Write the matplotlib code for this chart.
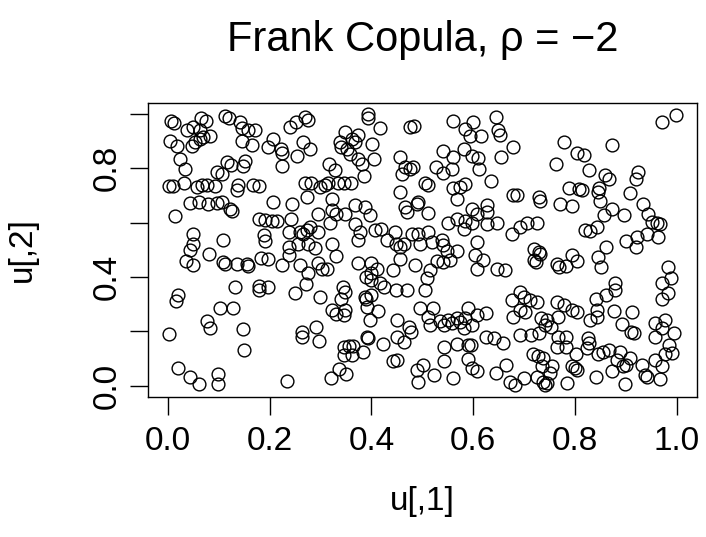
import matplotlib
matplotlib.use("Agg")
import matplotlib.pyplot as plt

plt.rcParams['font.family'] = ['Liberation Sans', 'DejaVu Sans']

# sample points, u[,1] and u[,2], block by block
u1 = [
    # top left
    0.006, 0.012, 0.065, 0.074, 0.111, 0.119, 0.142, 0.145, 0.157, 0.170,
    0.037, 0.050, 0.063, 0.053, 0.063, 0.069, 0.083, 0.047, 0.004, 0.017,
    0.145, 0.166, 0.207, 0.197, 0.024, 0.033, 0.032, 0.001, 0.009, 0.056,
    0.066, 0.076, 0.092, 0.096, 0.107, 0.115, 0.124, 0.148, 0.151, 0.168,
    0.178, 0.138, 0.135,
    # top, second column
    0.222, 0.225, 0.225, 0.240, 0.252, 0.269, 0.276, 0.266, 0.279, 0.253,
    0.393, 0.394, 0.417, 0.347, 0.338, 0.341, 0.351, 0.361, 0.368, 0.374,
    0.401, 0.358, 0.373, 0.381, 0.404, 0.317, 0.328, 0.386, 0.269, 0.282,
    0.299, 0.309, 0.315, 0.335, 0.345, 0.360, 0.273, 0.322, 0.456, 0.466,
    0.476, 0.482, 0.459, 0.476, 0.484, 0.456,
    # top, third column
    0.561, 0.584, 0.600, 0.593, 0.615, 0.645, 0.648, 0.652, 0.678, 0.654,
    0.541, 0.561, 0.581, 0.597, 0.610, 0.612, 0.558, 0.541, 0.527, 0.505,
    0.512, 0.634, 0.561, 0.574, 0.584, 0.568, 0.679, 0.686, 0.729, 0.732,
    0.492,
    # top right
    0.972, 0.998, 0.778, 0.804, 0.817, 0.873, 0.763, 0.828, 0.860, 0.867,
    0.924, 0.920, 0.789, 0.807, 0.814, 0.848, 0.845, 0.909, 0.850,
    # middle left
    0.043, 0.060, 0.078, 0.096, 0.107, 0.122, 0.125, 0.207, 0.014, 0.178,
    0.191, 0.204, 0.214, 0.050, 0.109, 0.188, 0.190, 0.050, 0.043, 0.081,
    0.035, 0.050, 0.109, 0.112, 0.135, 0.155, 0.158, 0.183, 0.197, 0.132,
    0.178, 0.179, 0.196, 0.019, 0.015, 0.102, 0.127,
    # middle, second column
    0.243, 0.368, 0.387, 0.397, 0.466, 0.469, 0.242, 0.295, 0.322, 0.331,
    0.348, 0.318, 0.368, 0.378, 0.374, 0.407, 0.418, 0.430, 0.447, 0.449,
    0.456, 0.463, 0.456, 0.443, 0.479, 0.237, 0.259, 0.266, 0.273, 0.280,
    0.295, 0.256, 0.237, 0.276, 0.289, 0.322, 0.237, 0.224, 0.259, 0.295,
    0.302, 0.312, 0.331, 0.276, 0.272, 0.374, 0.400, 0.411, 0.400, 0.390,
    0.400, 0.417, 0.424, 0.449, 0.469, 0.344, 0.348, 0.341, 0.387, 0.390,
    0.400, 0.250, 0.299,
    # middle, third column
    0.489, 0.512, 0.598, 0.627, 0.627, 0.607, 0.551, 0.568, 0.584, 0.581,
    0.597, 0.627, 0.646, 0.676, 0.692, 0.705, 0.725, 0.492, 0.512, 0.496,
    0.518, 0.538, 0.541, 0.548, 0.568, 0.607, 0.603, 0.619, 0.607, 0.646,
    0.663, 0.486, 0.528, 0.541, 0.555, 0.515, 0.509, 0.505, 0.719, 0.729,
    0.732, 0.719, 0.724, 0.692, 0.699, 0.676, 0.712, 0.725,
    # middle right
    0.771, 0.794, 0.873, 0.858, 0.897, 0.933, 0.943, 0.951, 0.961, 0.968,
    0.963, 0.819, 0.830, 0.843, 0.901, 0.921, 0.941, 0.920, 0.861, 0.846,
    0.852, 0.764, 0.768, 0.782, 0.794, 0.804, 0.983, 0.989, 0.972, 0.983,
    0.972, 0.878, 0.879, 0.861, 0.841, 0.764, 0.778,
    # bottom left
    0.076, 0.083, 0.002, 0.148, 0.150, 0.020, 0.043, 0.060, 0.099, 0.099,
    # bottom, second column
    0.322, 0.331, 0.345, 0.348, 0.391, 0.412, 0.397, 0.290, 0.263, 0.263,
    0.297, 0.451, 0.473, 0.478, 0.391, 0.394, 0.422, 0.450, 0.463, 0.345,
    0.355, 0.364, 0.345, 0.361, 0.384, 0.443, 0.450, 0.336, 0.349, 0.320,
    0.233,
    # bottom, third column
    0.495, 0.520, 0.512, 0.515, 0.535, 0.542, 0.551, 0.558, 0.568, 0.574,
    0.584, 0.581, 0.597, 0.590, 0.607, 0.625, 0.678, 0.702, 0.692, 0.734,
    0.742, 0.691, 0.713, 0.729, 0.625, 0.640, 0.658, 0.543, 0.568, 0.589,
    0.595, 0.542, 0.589, 0.598, 0.608, 0.502, 0.489, 0.492, 0.523, 0.561,
    0.645, 0.665, 0.673, 0.683, 0.699, 0.718, 0.728, 0.738, 0.735, 0.725,
    0.738, 0.742,
    # bottom right
    0.794, 0.804, 0.843, 0.843, 0.830, 0.877, 0.913, 0.766, 0.745, 0.753,
    0.893, 0.911, 0.917, 0.958, 0.977, 0.971, 0.994, 0.958, 0.767, 0.782,
    0.764, 0.782, 0.825, 0.827, 0.823, 0.802, 0.846, 0.856, 0.866, 0.889,
    0.882, 0.901, 0.908, 0.895, 0.984, 0.977, 0.990, 0.958, 0.971, 0.932,
    0.938, 0.941, 0.967, 0.794, 0.800, 0.804, 0.873, 0.841, 0.784, 0.899,
    0.755, 0.751, 0.745,
]

u2 = [
    # top left
    0.972, 0.967, 0.986, 0.974, 0.991, 0.984, 0.969, 0.947, 0.942, 0.942,
    0.939, 0.951, 0.939, 0.896, 0.908, 0.914, 0.920, 0.883, 0.902, 0.883,
    0.902, 0.886, 0.908, 0.878, 0.835, 0.796, 0.747, 0.735, 0.735, 0.731,
    0.737, 0.737, 0.735, 0.788, 0.779, 0.823, 0.813, 0.810, 0.825, 0.740,
    0.735, 0.740, 0.719,
    # top, second column
    0.872, 0.857, 0.810, 0.951, 0.969, 0.988, 0.979, 0.898, 0.869, 0.845,
    0.998, 0.984, 0.947, 0.933, 0.896, 0.878, 0.872, 0.908, 0.896, 0.923,
    0.890, 0.853, 0.835, 0.817, 0.835, 0.817, 0.792, 0.771, 0.747, 0.747,
    0.731, 0.740, 0.747, 0.747, 0.747, 0.747, 0.694, 0.686, 0.843, 0.804,
    0.798, 0.804, 0.780, 0.951, 0.955, 0.713,
    # top, third column
    0.975, 0.945, 0.970, 0.920, 0.920, 0.988, 0.939, 0.923, 0.878, 0.841,
    0.862, 0.841, 0.869, 0.845, 0.837, 0.796, 0.796, 0.784, 0.804, 0.747,
    0.740, 0.752, 0.727, 0.731, 0.743, 0.688, 0.700, 0.700, 0.694, 0.678,
    0.676,
    # top right
    0.969, 0.996, 0.898, 0.857, 0.847, 0.884, 0.817, 0.792, 0.776, 0.759,
    0.788, 0.762, 0.727, 0.722, 0.719, 0.727, 0.713, 0.710, 0.681,
    # middle left
    0.672, 0.676, 0.667, 0.672, 0.676, 0.652, 0.643, 0.676, 0.623, 0.615,
    0.611, 0.606, 0.606, 0.560, 0.536, 0.554, 0.533, 0.521, 0.501, 0.486,
    0.460, 0.444, 0.454, 0.448, 0.448, 0.448, 0.440, 0.470, 0.466, 0.362,
    0.367, 0.354, 0.364, 0.334, 0.313, 0.285, 0.285,
    # middle, second column
    0.670, 0.664, 0.658, 0.627, 0.658, 0.639, 0.614, 0.633, 0.645, 0.633,
    0.631, 0.600, 0.594, 0.566, 0.535, 0.572, 0.578, 0.538, 0.566, 0.521,
    0.511, 0.523, 0.468, 0.425, 0.560, 0.566, 0.566, 0.560, 0.572, 0.584,
    0.566, 0.521, 0.511, 0.523, 0.505, 0.523, 0.480, 0.444, 0.444, 0.450,
    0.431, 0.431, 0.477, 0.413, 0.374, 0.450, 0.450, 0.431, 0.413, 0.399,
    0.389, 0.377, 0.362, 0.354, 0.354, 0.364, 0.346, 0.321, 0.327, 0.321,
    0.333, 0.342, 0.325,
    # middle, third column
    0.670, 0.637, 0.651, 0.664, 0.639, 0.633, 0.600, 0.613, 0.606, 0.578,
    0.600, 0.594, 0.600, 0.560, 0.584, 0.600, 0.600, 0.560, 0.566, 0.523,
    0.529, 0.535, 0.517, 0.494, 0.494, 0.529, 0.480, 0.462, 0.431, 0.431,
    0.425, 0.444, 0.459, 0.455, 0.464, 0.425, 0.398, 0.354, 0.504, 0.492,
    0.486, 0.462, 0.457, 0.346, 0.328, 0.315, 0.315, 0.309,
    # middle right
    0.670, 0.660, 0.651, 0.627, 0.627, 0.670, 0.631, 0.603, 0.597, 0.594,
    0.548, 0.572, 0.570, 0.584, 0.533, 0.548, 0.557, 0.509, 0.509, 0.474,
    0.436, 0.447, 0.438, 0.440, 0.480, 0.460, 0.437, 0.398, 0.379, 0.340,
    0.318, 0.379, 0.354, 0.334, 0.318, 0.310, 0.297,
    # bottom left
    0.238, 0.214, 0.189, 0.209, 0.132, 0.067, 0.031, 0.006, 0.043, 0.006,
    # bottom, second column
    0.279, 0.263, 0.260, 0.279, 0.291, 0.275, 0.242, 0.218, 0.198, 0.181,
    0.165, 0.242, 0.218, 0.198, 0.181, 0.175, 0.153, 0.181, 0.160, 0.143,
    0.147, 0.147, 0.114, 0.114, 0.126, 0.092, 0.095, 0.062, 0.043, 0.028,
    0.016,
    # bottom, third column
    0.285, 0.287, 0.252, 0.224, 0.237, 0.224, 0.242, 0.230, 0.248, 0.236,
    0.248, 0.211, 0.223, 0.285, 0.260, 0.266, 0.254, 0.272, 0.279, 0.248,
    0.224, 0.187, 0.185, 0.194, 0.181, 0.175, 0.156, 0.141, 0.153, 0.150,
    0.150, 0.091, 0.099, 0.064, 0.055, 0.077, 0.059, 0.013, 0.038, 0.028,
    0.046, 0.077, 0.013, 0.004, 0.028, 0.116, 0.108, 0.101, 0.071, 0.031,
    0.013, 0.004,
    # bottom right
    0.279, 0.273, 0.279, 0.254, 0.242, 0.275, 0.273, 0.254, 0.242, 0.218,
    0.226, 0.198, 0.194, 0.230, 0.242, 0.211, 0.193, 0.181, 0.181, 0.181,
    0.144, 0.144, 0.175, 0.156, 0.138, 0.116, 0.116, 0.126, 0.132, 0.126,
    0.095, 0.077, 0.103, 0.071, 0.150, 0.116, 0.120, 0.095, 0.071, 0.077,
    0.040, 0.031, 0.026, 0.071, 0.067, 0.059, 0.053, 0.034, 0.010, 0.006,
    0.071, 0.046, 0.010,
]

x_ticks = [0.0, 0.2, 0.4, 0.6, 0.8, 1.0]
x_labels = ['0.0', '0.2', '0.4', '0.6', '0.8', '1.0']
y_ticks = [0.0, 0.2, 0.4, 0.6, 0.8, 1.0]
y_labels = ['0.0', '', '0.4', '', '0.8', '']

assert len(u1) == len(u2)

fig = plt.figure(figsize=(7.06, 5.37), dpi=100)
ax = fig.add_axes([0.2092, 0.2613, 0.7781, 0.5469])

ax.plot(u1, u2, 'o', mfc='none', mec='black', ms=9.2, mew=1.0)

ax.set_xlim(-0.04, 1.04)
ax.set_ylim(-0.04, 1.04)
ax.set_xticks(x_ticks)
ax.set_xticklabels(x_labels)
ax.set_yticks(y_ticks)
ax.set_yticklabels(y_labels, rotation=90, va='center')
ax.tick_params(direction='out', length=13, width=1.0, labelsize=24)
ax.tick_params(axis='x', pad=8)
ax.tick_params(axis='y', pad=5)
for s in ax.spines.values():
    s.set_linewidth(1.0)

cx = 0.2092 + 0.7781 / 2
fig.text(cx, 0.926, 'Frank Copula, \u03c1 = \u22122', ha='center', va='center', fontsize=30)
fig.text(cx, 0.066, 'u[,1]', ha='center', va='center', fontsize=24)
fig.text(0.031, 0.535, 'u[,2]', ha='center', va='center', rotation=90, fontsize=24)

fig.savefig('out.png', dpi=100)
